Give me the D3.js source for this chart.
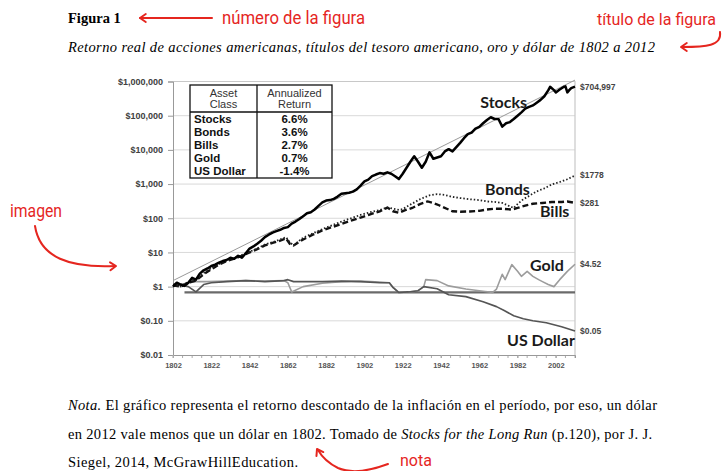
<!DOCTYPE html>
<html><head><meta charset="utf-8">
<script src="https://cdn.jsdelivr.net/npm/d3@7"></script>
<style>html,body{margin:0;padding:0;background:#fff;}svg{display:block;}</style>
</head><body>
<svg id="chart" width="725" height="471"></svg>
<script>
// ---------- DATA ----------
const yTickValues = [0.01, 0.1, 1, 10, 100, 1000, 10000, 100000, 1000000];
const yTickLabels = ["$0.01","$0.10","$1","$10","$100","$1,000","$10,000","$100,000","$1,000,000"];
const xTickYears = [1802,1822,1842,1862,1882,1902,1922,1942,1962,1982,2002];

const assetClasses = ["Stocks","Bonds","Bills","Gold","US Dollar"];
const annualReturns = ["6.6%","3.6%","2.7%","0.7%","-1.4%"];

const stocks = [[1802,1.0],[1804,1.3],[1806,1.15],[1808,1.05],[1810,1.3],[1812,1.8],[1814,1.6],[1816,2.4],[1818,3.0],[1820,3.4],[1822,4.0],[1824,4.4],[1826,5.0],[1828,5.6],[1830,6.0],[1832,7.0],[1834,6.5],[1836,8.0],[1838,7.0],[1840,9.5],[1842,13],[1844,15],[1846,18],[1848,22],[1850,28],[1852,33],[1854,38],[1856,42],[1858,46],[1860,52],[1862,55],[1864,70],[1866,80],[1868,95],[1870,115],[1872,140],[1874,150],[1876,180],[1878,230],[1880,290],[1882,330],[1884,340],[1886,370],[1888,430],[1890,520],[1892,540],[1894,560],[1896,600],[1898,700],[1900,900],[1902,1200],[1904,1350],[1906,1700],[1908,1900],[1910,2100],[1912,2000],[1914,2200],[1916,2000],[1918,1700],[1920,1400],[1922,2000],[1924,3000],[1926,4500],[1928,6500],[1930,4500],[1932,3000],[1934,4500],[1936,8500],[1938,5500],[1940,6000],[1942,6500],[1944,9000],[1946,10500],[1948,9000],[1950,12000],[1952,16000],[1954,22000],[1956,29000],[1958,32000],[1960,42000],[1962,47000],[1964,60000],[1966,75000],[1968,90000],[1970,80000],[1972,80000],[1974,48000],[1976,60000],[1978,65000],[1980,80000],[1982,100000],[1984,125000],[1986,160000],[1988,180000],[1990,200000],[1992,240000],[1994,290000],[1996,370000],[1998,550000],[1999,700000],[2001,560000],[2002,480000],[2004,580000],[2006,690000],[2007,720000],[2008,480000],[2009,560000],[2010,640000],[2012,704997]];

const bonds = [[1802,1.1],[1806,1.0],[1810,1.4],[1814,1.6],[1818,2.5],[1822,3.5],[1826,4.6],[1830,5.8],[1834,6.8],[1838,8.5],[1842,10.5],[1846,13],[1850,17],[1854,20],[1858,24],[1861,28],[1863,20],[1865,16],[1867,20],[1870,27],[1875,36],[1880,48],[1885,62],[1890,80],[1895,100],[1900,125],[1905,150],[1910,175],[1914,205],[1917,190],[1920,175],[1922,185],[1926,250],[1931,360],[1936,470],[1940,510],[1944,480],[1948,420],[1952,390],[1957,360],[1962,340],[1966,310],[1970,300],[1974,280],[1980,200],[1982,260],[1985,360],[1988,450],[1992,610],[1996,750],[2000,980],[2004,1150],[2008,1380],[2012,1778]];

const bills = [[1802,1.1],[1806,1.0],[1810,1.3],[1814,1.5],[1818,2.3],[1822,3.2],[1826,4.4],[1830,5.6],[1834,6.6],[1838,8],[1842,10],[1846,12.5],[1850,16],[1854,19],[1858,22],[1861,26],[1863,18],[1865,16],[1867,19],[1870,24],[1875,33],[1880,44],[1885,55],[1890,68],[1895,85],[1900,105],[1905,130],[1910,160],[1914,205],[1917,160],[1920,145],[1923,170],[1927,200],[1931,260],[1935,310],[1938,280],[1941,240],[1945,190],[1948,160],[1952,155],[1957,158],[1962,165],[1966,180],[1970,190],[1974,190],[1979,180],[1982,200],[1986,235],[1990,265],[1995,280],[2000,300],[2005,300],[2008,310],[2012,281]];

const gold = [[1802,1.2],[1806,1.15],[1810,1.3],[1814,1.4],[1820,1.4],[1830,1.45],[1840,1.5],[1850,1.45],[1860,1.5],[1862,1.3],[1864,0.7],[1870,1.0],[1880,1.25],[1890,1.4],[1900,1.45],[1910,1.35],[1915,1.3],[1917,0.95],[1920,0.68],[1925,0.7],[1930,0.75],[1933,1.0],[1934,1.6],[1940,1.5],[1946,1.05],[1955,0.85],[1965,0.72],[1969,0.68],[1971,0.85],[1974,2.3],[1975.5,1.6],[1979,4.4],[1982,2.8],[1984,2.0],[1987,2.8],[1990,2.0],[1993,1.6],[1995,1.4],[1998,1.15],[2001,1.0],[2004,1.6],[2008,2.8],[2012,4.52]];

const usDollar = [[1802,1.2],[1806,1.1],[1810,1.0],[1814,0.7],[1818,1.15],[1822,1.3],[1830,1.4],[1840,1.5],[1850,1.4],[1860,1.5],[1862,1.6],[1865,1.4],[1880,1.4],[1890,1.45],[1900,1.4],[1910,1.3],[1915,1.3],[1917,0.93],[1920,0.67],[1925,0.7],[1930,0.76],[1933,1.0],[1940,0.87],[1946,0.58],[1955,0.51],[1964,0.36],[1971,0.26],[1975,0.2],[1980,0.14],[1985,0.115],[1990,0.1],[1997,0.088],[2005,0.067],[2012,0.05]];

const trend = [[1802,1.5],[2012,1100000]];
const baseline = [[1808,0.68],[2012,0.68]];

const endLabels = [
  {text:"$704,997", value:704997},
  {text:"$1778", value:1778},
  {text:"$281", value:281},
  {text:"$4.52", value:4.52},
  {text:"$0.05", value:0.05}
];
const seriesNames = [
  {text:"Stocks", year:1962.5, value:166000},
  {text:"Bonds", year:1965, value:480},
  {text:"Bills", year:1993.7, value:109},
  {text:"Gold", year:1988.5, value:2.86},
  {text:"US Dollar", year:1976.5, value:0.0183}
];

// ---------- DRAW ----------
const svg = d3.select("#chart");
svg.append("rect").attr("width",725).attr("height",471).attr("fill","#fff");

const L = 173, R = 575, T = 81.5, B = 355;
const x = d3.scaleLinear().domain([1802, 2012]).range([L, R]);
const y = d3.scaleLog().domain([0.01, 1000000]).range([B, T]);

// gridlines
svg.append("g").selectAll("line").data(yTickValues.slice(1)).join("line")
  .attr("x1", L).attr("x2", R).attr("y1", d => y(d)).attr("y2", d => y(d))
  .attr("stroke", "#d9d9d9").attr("stroke-width", 1);

// plot border (top & right)
svg.append("path").attr("d", `M${L},${T}H${R}V${B}`).attr("fill","none").attr("stroke","#c8c8c8").attr("stroke-width",1.2);

// y axis
const yAxis = svg.append("g").attr("transform", `translate(${L},0)`)
  .call(d3.axisLeft(y).tickValues(yTickValues).tickFormat((d,i) => yTickLabels[i]).tickSize(5).tickPadding(5));
yAxis.select(".domain").attr("stroke","#999");
yAxis.selectAll(".tick line").attr("stroke","#999");
yAxis.selectAll("text").attr("font-family","Liberation Sans, Arial, sans-serif").attr("font-size",9).attr("font-weight","bold").attr("fill","#404040");

// x axis
const minorYears = d3.range(1802, 2013, 5);
const xMinor = svg.append("g").attr("transform", `translate(0,${B})`);
xMinor.selectAll("line").data(minorYears).join("line")
  .attr("x1", d => x(d)).attr("x2", d => x(d)).attr("y1", 0).attr("y2", 3)
  .attr("stroke","#aaa");
const xAxis = svg.append("g").attr("transform", `translate(0,${B})`)
  .call(d3.axisBottom(x).tickValues(xTickYears).tickFormat(d3.format("d")).tickSize(3).tickPadding(5));
xAxis.select(".domain").attr("stroke","#999");
xAxis.selectAll(".tick line").attr("stroke","#aaa");
xAxis.selectAll("text").attr("font-family","Liberation Sans, Arial, sans-serif").attr("font-size",7.5).attr("font-weight","bold").attr("fill","#555");

const line = d3.line().x(d => x(d[0])).y(d => y(d[1]));

svg.append("path").datum(baseline).attr("d", line).attr("fill","none").attr("stroke","#6a6a6a").attr("stroke-width",2.2);
svg.append("path").datum(trend).attr("d", line).attr("fill","none").attr("stroke","#9a9a9a").attr("stroke-width",1);
svg.append("path").datum(gold).attr("d", line).attr("fill","none").attr("stroke","#9c9c9c").attr("stroke-width",1.6).attr("stroke-linejoin","round");
svg.append("path").datum(usDollar).attr("d", line).attr("fill","none").attr("stroke","#555").attr("stroke-width",1.6).attr("stroke-linejoin","round");
svg.append("path").datum(bills).attr("d", line).attr("fill","none").attr("stroke","#111").attr("stroke-width",2.4).attr("stroke-dasharray","6,3");
svg.append("path").datum(bonds).attr("d", line).attr("fill","none").attr("stroke","#222").attr("stroke-width",1.8).attr("stroke-dasharray","1.5,2");
svg.append("path").datum(stocks).attr("d", line).attr("fill","none").attr("stroke","#000").attr("stroke-width",2.5).attr("stroke-linejoin","round");

// end labels
svg.append("g").selectAll("text").data(endLabels).join("text")
  .attr("x", R + 5).attr("y", d => y(d.value)).attr("dy","0.35em")
  .attr("font-family","Liberation Sans, Arial, sans-serif").attr("font-size",8.5).attr("font-weight","bold").attr("fill","#444")
  .text(d => d.text);

// series names
svg.append("g").selectAll("text").data(seriesNames).join("text")
  .attr("x", d => x(d.year)).attr("y", d => y(d.value))
  .attr("font-family","Lato, 'Open Sans', sans-serif").attr("font-size",16).attr("font-weight","bold").attr("fill","#1a1a1a")
  .text(d => d.text);

// table
const tb = svg.append("g");
const tX0 = 190, tX1 = 257, tX2 = 332, tY0 = 85, tY1 = 112, tY2 = 178;
tb.append("rect").attr("x",tX0).attr("y",tY0).attr("width",tX2-tX0).attr("height",tY2-tY0).attr("fill","#fff").attr("stroke","#111").attr("stroke-width",1.3);
tb.append("line").attr("x1",tX1).attr("x2",tX1).attr("y1",tY0).attr("y2",tY2).attr("stroke","#111").attr("stroke-width",1.3);
tb.append("line").attr("x1",tX0).attr("x2",tX2).attr("y1",tY1).attr("y2",tY1).attr("stroke","#111").attr("stroke-width",1.3);
const tf = "Liberation Sans, Arial, sans-serif";
[["Asset","Class",(tX0+tX1)/2],["Annualized","Return",(tX1+tX2)/2]].forEach(h => {
  tb.append("text").attr("x",h[2]).attr("y",97).attr("text-anchor","middle").attr("font-family",tf).attr("font-size",11).attr("fill","#333").text(h[0]);
  tb.append("text").attr("x",h[2]).attr("y",108).attr("text-anchor","middle").attr("font-family",tf).attr("font-size",11).attr("fill","#333").text(h[1]);
});
const rowY = d3.scaleLinear().domain([0,4]).range([123,175]);
tb.selectAll(".rl").data(assetClasses).join("text").attr("class","rl")
  .attr("x",tX0+4).attr("y",(d,i)=>rowY(i)).attr("font-family",tf).attr("font-size",11.5).attr("font-weight","bold").attr("fill","#111").text(d=>d);
tb.selectAll(".rv").data(annualReturns).join("text").attr("class","rv")
  .attr("x",(tX1+tX2)/2).attr("y",(d,i)=>rowY(i)).attr("text-anchor","middle").attr("font-family",tf).attr("font-size",11.5).attr("font-weight","bold").attr("fill","#111").text(d=>d);

// document text
const serif = "'Liberation Serif', 'Times New Roman', serif";
svg.append("text").attr("x",68).attr("y",23).attr("font-family",serif).attr("font-size",14.5).attr("font-weight","bold").attr("fill","#000").text("Figura 1");
svg.append("text").attr("x",68).attr("y",52).attr("font-family",serif).attr("font-size",14.5).attr("font-style","italic").attr("fill","#000")
  .attr("textLength",587).attr("lengthAdjust","spacing")
  .text("Retorno real de acciones americanas, títulos del tesoro americano, oro y dólar de 1802 a 2012");

const n1 = svg.append("text").attr("x",68).attr("y",410).attr("font-family",serif).attr("font-size",14.5).attr("fill","#000").attr("textLength",589).attr("lengthAdjust","spacing");
n1.append("tspan").attr("font-style","italic").text("Nota.");
n1.append("tspan").text(" El gráfico representa el retorno descontado de la inflación en el período, por eso, un dólar");
const n2 = svg.append("text").attr("x",68).attr("y",439).attr("font-family",serif).attr("font-size",14.5).attr("fill","#000").attr("textLength",584).attr("lengthAdjust","spacing");
n2.append("tspan").text("en 2012 vale menos que un dólar en 1802. Tomado de ");
n2.append("tspan").attr("font-style","italic").text("Stocks for the Long Run");
n2.append("tspan").text(" (p.120), por J. J.");
svg.append("text").attr("x",68).attr("y",467).attr("font-family",serif).attr("font-size",14.5).attr("fill","#000").attr("textLength",230).attr("lengthAdjust","spacing").text("Siegel, 2014, McGrawHillEducation.");

// red annotations
const red = "#e5261f";
const af = "Roboto, 'Open Sans', sans-serif";
function ann(t, x0, yb, w, fs) {
  svg.append("text").attr("x",x0).attr("y",yb).attr("font-family",af).attr("font-size",fs).attr("fill",red)
    .attr("textLength",w).attr("lengthAdjust","spacingAndGlyphs").text(t);
}
ann("número de la figura", 222, 24, 143, 18);
ann("título de la figura", 597, 25, 119, 17);
ann("imagen", 10, 217, 52, 18);
ann("nota", 400, 466, 32, 16);
function arrow(d, tip, ang) {
  svg.append("path").attr("d", d).attr("fill","none").attr("stroke",red).attr("stroke-width",2).attr("stroke-linecap","round");
  const a = ang * Math.PI/180, s = 7, sp = 0.6;
  const p1 = [tip[0] - s*Math.cos(a - sp), tip[1] - s*Math.sin(a - sp)];
  const p2 = [tip[0] - s*Math.cos(a + sp), tip[1] - s*Math.sin(a + sp)];
  svg.append("path").attr("d", `M${p1}L${tip}L${p2}`).attr("fill","none").attr("stroke",red).attr("stroke-width",2).attr("stroke-linecap","round").attr("stroke-linejoin","round");
}
arrow("M212,18L140,18", [140,18], 180);
arrow("M720,32C722,46 706,47 682,47", [681,47], 180);
arrow("M35,226C40,258 70,268 115,266", [116,266], -3);
arrow("M388,464C372,470 352,474 338,468C328,463 322,457 318,450", [317,449], -120);
</script>
</body></html>
